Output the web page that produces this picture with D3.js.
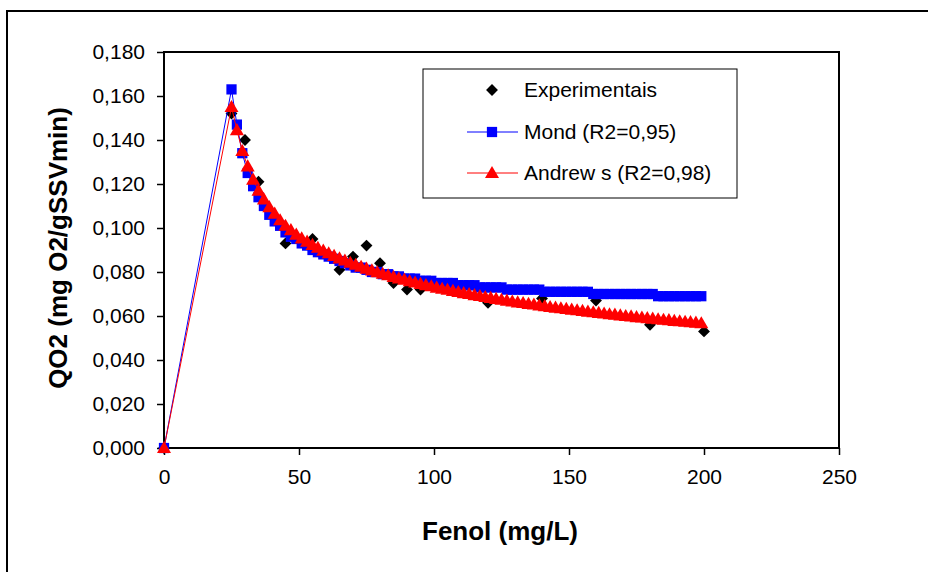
<!DOCTYPE html>
<html lang="pt">
<head>
<meta charset="UTF-8">
<title>QO2 x Fenol</title>
<script src="https://cdn.jsdelivr.net/npm/d3@7"></script>
<style>
  body { margin: 0; background: #fff; }
  svg { display: block; font-family: "Liberation Sans", Arial, sans-serif; }
</style>
</head>
<body>
<svg id="chart" width="928" height="572"></svg>
<script>
// dados experimentais
var expX = [0, 25, 30, 35, 45, 55, 65, 70, 75, 80, 85, 90, 95, 120, 140, 160, 180, 200];
var expY = [0, 0.152, 0.140, 0.121, 0.093, 0.095, 0.081, 0.087, 0.092, 0.084, 0.075, 0.072, 0.072, 0.066, 0.068, 0.067, 0.056, 0.053];

// modelos (mesmo eixo x)
var modelX = [0,
  25, 27, 29, 31, 33, 35, 37, 39, 41, 43,
  45, 47, 49, 51, 53, 55, 57, 59, 61, 63,
  65, 67, 69, 71, 73, 75, 77, 79, 81, 83,
  85, 87, 89, 91, 93, 95, 97, 99, 101, 103,
  105, 107, 109, 111, 113, 115, 117, 119, 121, 123,
  125, 127, 129, 131, 133, 135, 137, 139, 141, 143,
  145, 147, 149, 151, 153, 155, 157, 159, 161, 163,
  165, 167, 169, 171, 173, 175, 177, 179, 181, 183,
  185, 187, 189, 191, 193, 195, 197, 199];

var mondY = [0,
  0.163, 0.147, 0.134, 0.125, 0.119, 0.114, 0.110, 0.106, 0.103, 0.101,
  0.098, 0.096, 0.095, 0.093, 0.092, 0.090, 0.089, 0.088, 0.087, 0.086,
  0.085, 0.084, 0.083, 0.082, 0.082, 0.081, 0.080, 0.080, 0.079, 0.079,
  0.078, 0.078, 0.077, 0.077, 0.077, 0.076, 0.076, 0.076, 0.075, 0.075,
  0.075, 0.075, 0.074, 0.074, 0.074, 0.074, 0.073, 0.073, 0.073, 0.073,
  0.073, 0.072, 0.072, 0.072, 0.072, 0.072, 0.072, 0.072, 0.071, 0.071,
  0.071, 0.071, 0.071, 0.071, 0.071, 0.071, 0.071, 0.070, 0.070, 0.070,
  0.070, 0.070, 0.070, 0.070, 0.070, 0.070, 0.070, 0.070, 0.070, 0.069,
  0.069, 0.069, 0.069, 0.069, 0.069, 0.069, 0.069, 0.069];

var andrewsY = [0,
  0.1550, 0.1445, 0.1350, 0.1280, 0.1220, 0.1170, 0.1130, 0.1095, 0.1065, 0.1035,
  0.1010, 0.0990, 0.0970, 0.0953, 0.0938, 0.0923, 0.0910, 0.0897, 0.0885, 0.0873,
  0.0862, 0.0852, 0.0842, 0.0833, 0.0824, 0.0815, 0.0807, 0.0799, 0.0792, 0.0785,
  0.0778, 0.0771, 0.0765, 0.0758, 0.0752, 0.0746, 0.0740, 0.0735, 0.0729, 0.0724,
  0.0719, 0.0714, 0.0709, 0.0704, 0.0700, 0.0695, 0.0691, 0.0686, 0.0682, 0.0678,
  0.0674, 0.0670, 0.0666, 0.0662, 0.0659, 0.0655, 0.0652, 0.0648, 0.0645, 0.0641,
  0.0638, 0.0635, 0.0632, 0.0629, 0.0626, 0.0623, 0.0620, 0.0617, 0.0614, 0.0611,
  0.0608, 0.0606, 0.0603, 0.0600, 0.0598, 0.0595, 0.0593, 0.0590, 0.0588, 0.0585,
  0.0583, 0.0581, 0.0578, 0.0576, 0.0574, 0.0572, 0.0570, 0.0567];

var xTicks = [0, 50, 100, 150, 200, 250];
var yTicks = [0, 0.02, 0.04, 0.06, 0.08, 0.10, 0.12, 0.14, 0.16, 0.18];
var legendLabels = ["Experimentais", "Mond (R2=0,95)", "Andrew s (R2=0,98)"];

var svg = d3.select("#chart");
var plotLeft = 164, plotRight = 839, plotTop = 52, plotBottom = 448;

var x = d3.scaleLinear().domain([0, 250]).range([plotLeft, plotRight]);
var y = d3.scaleLinear().domain([0, 0.18]).range([plotBottom, plotTop]);

var ptBR = d3.formatLocale({ decimal: ",", thousands: ".", grouping: [3], currency: ["R$", ""] });
var fmt = ptBR.format(".3f");

// moldura externa (cortada na direita/baixo)
svg.append("rect")
  .attr("x", 7).attr("y", 11).attr("width", 1000).attr("height", 1000)
  .attr("fill", "none").attr("stroke", "#000").attr("stroke-width", 2);

// eixos
var gx = svg.append("g")
  .attr("transform", "translate(0," + plotBottom + ")")
  .call(d3.axisBottom(x).tickValues(xTicks).tickSize(7).tickPadding(14).tickSizeOuter(0));
var gy = svg.append("g")
  .attr("transform", "translate(" + plotLeft + ",0)")
  .call(d3.axisLeft(y).tickValues(yTicks).tickFormat(fmt).tickSize(7).tickPadding(12).tickSizeOuter(0));

[gx, gy].forEach(function (g) {
  g.select(".domain").remove();
  g.selectAll(".tick line").attr("stroke", "#000").attr("stroke-width", 1.5);
  g.selectAll(".tick text").attr("fill", "#000").style("font-size", "21px")
    .style("font-family", "'Liberation Sans', Arial, sans-serif");
});

// borda da área de plotagem
svg.append("rect")
  .attr("x", plotLeft).attr("y", plotTop)
  .attr("width", plotRight - plotLeft).attr("height", plotBottom - plotTop)
  .attr("fill", "none").attr("stroke", "#000").attr("stroke-width", 2);

// títulos
svg.append("text")
  .attr("x", 500).attr("y", 540)
  .attr("text-anchor", "middle")
  .style("font-size", "26px").style("font-weight", "bold")
  .text("Fenol (mg/L)");

svg.append("text")
  .attr("transform", "translate(67,248) rotate(-90)")
  .attr("text-anchor", "middle")
  .style("font-size", "26px").style("font-weight", "bold")
  .text("QO2 (mg O2/gSSVmin)");

// séries
var expData = expX.map(function (d, i) { return { x: d, y: expY[i] }; });
var mondData = modelX.map(function (d, i) { return { x: d, y: mondY[i] }; });
var andrewsData = modelX.map(function (d, i) { return { x: d, y: andrewsY[i] }; });

var diamond = d3.symbol().type(d3.symbolDiamond2).size(90);
var square = d3.symbol().type(d3.symbolSquare).size(105);
var triangle = d3.symbol().type(d3.symbolTriangle).size(85);

svg.append("g").selectAll("path")
  .data(expData).enter().append("path")
  .attr("d", diamond)
  .attr("transform", function (d) { return "translate(" + x(d.x) + "," + y(d.y) + ")"; })
  .attr("fill", "#000");

var line = d3.line()
  .x(function (d) { return x(d.x); })
  .y(function (d) { return y(d.y); });

svg.append("path").datum(mondData)
  .attr("d", line).attr("fill", "none").attr("stroke", "#0000ff").attr("stroke-width", 1);
svg.append("g").selectAll("path")
  .data(mondData).enter().append("path")
  .attr("d", square)
  .attr("transform", function (d) { return "translate(" + x(d.x) + "," + y(d.y) + ")"; })
  .attr("fill", "#0000ff");

svg.append("path").datum(andrewsData)
  .attr("d", line).attr("fill", "none").attr("stroke", "#ff0000").attr("stroke-width", 1);
svg.append("g").selectAll("path")
  .data(andrewsData).enter().append("path")
  .attr("d", triangle)
  .attr("transform", function (d) { return "translate(" + x(d.x) + "," + (y(d.y) + 1) + ")"; })
  .attr("fill", "#ff0000");

// legenda
var lg = svg.append("g");
lg.append("rect")
  .attr("x", 423).attr("y", 69).attr("width", 314).attr("height", 129)
  .attr("fill", "#fff").attr("stroke", "#000").attr("stroke-width", 1);

var rows = [90, 132, 173];
var colors = ["#000", "#0000ff", "#ff0000"];
var symbols = [diamond, square, triangle];

legendLabels.forEach(function (label, i) {
  if (i > 0) {
    lg.append("line")
      .attr("x1", 467).attr("x2", 518).attr("y1", rows[i]).attr("y2", rows[i])
      .attr("stroke", colors[i]).attr("stroke-width", 1);
  }
  lg.append("path")
    .attr("d", symbols[i])
    .attr("transform", "translate(492," + (rows[i] + (i == 2 ? 1 : 0)) + ")")
    .attr("fill", colors[i]);
  lg.append("text")
    .attr("x", 524).attr("y", rows[i] + 7)
    .style("font-size", "21px")
    .text(label);
});
</script>
</body>
</html>
